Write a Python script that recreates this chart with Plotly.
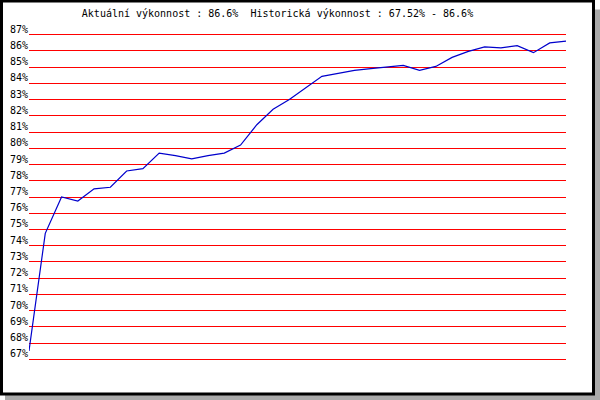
import plotly.graph_objects as go

# ---- data ----
performance = [67.52, 74.76, 77.0, 76.75, 77.5, 77.6, 78.6, 78.75, 79.7, 79.55,
               79.35, 79.55, 79.7, 80.2, 81.45, 82.4, 83.0, 83.7, 84.43, 84.61,
               84.8, 84.9, 84.98, 85.1, 84.8, 85.04, 85.6, 85.97, 86.24, 86.18,
               86.32, 85.89, 86.49, 86.6]
sample_index = list(range(len(performance)))
tick_values = list(range(67, 88))
tick_labels = [f"{v}%" for v in tick_values]
title_text = "Aktuální výkonnost : 86.6%  Historická výkonnost : 67.52% - 86.6%"

W, H = 600, 400
Y_MIN, Y_MAX, PAD = 67, 87, 0.1
PX_PER_UNIT = (359 - 35) / (Y_MAX - Y_MIN)
L, R = 29, 566
T = 35 - PAD * PX_PER_UNIT
B = 359 + PAD * PX_PER_UNIT

def px(x):
    return (x - L) / (R - L)

def py(y):
    return (B - y) / (B - T)

FONT = "DejaVu Sans Mono"

fig = go.Figure()
fig.add_trace(go.Scatter(
    x=sample_index, y=performance, mode="lines",
    line=dict(color="#0000cc", width=1.2),
    hoverinfo="skip", showlegend=False,
))

shapes = [
    # shadow
    dict(type="rect", xref="paper", yref="paper", layer="below",
         x0=px(5), x1=px(600), y0=py(10), y1=py(400),
         fillcolor="#aaaaaa", line=dict(width=0)),
    # frame
    dict(type="rect", xref="paper", yref="paper", layer="below",
         x0=px(1.5), x1=px(593.5), y0=py(1.5), y1=py(393.5),
         fillcolor="white", line=dict(color="black", width=3)),
]

annotations = [
    dict(x=0, xref="paper", xshift=-21, xanchor="left",
         y=v, yref="y", yanchor="bottom", yshift=-2,
         text=t, showarrow=False,
         font=dict(family=FONT, size=10, color="black"))
    for v, t in zip(tick_values, tick_labels)
]

fig.update_layout(
    width=W, height=H,
    margin=dict(l=L, r=W - R, t=T, b=H - B, pad=0),
    paper_bgcolor="white", plot_bgcolor="rgba(0,0,0,0)",
    title=dict(text=title_text, x=277.5 / W, xanchor="center",
               y=1 - 13 / H, yanchor="middle",
               font=dict(family=FONT, size=10, color="black")),
    shapes=shapes, annotations=annotations,
    showlegend=False,
)
fig.update_xaxes(range=[sample_index[0], sample_index[-1]], showgrid=False,
                 zeroline=False, showticklabels=False, ticks="", showline=False,
                 fixedrange=True)
fig.update_yaxes(range=[Y_MIN - PAD, Y_MAX + PAD], tickvals=tick_values, showgrid=True,
                 gridcolor="#ff0000", gridwidth=1, zeroline=False,
                 showticklabels=False, ticks="", showline=False, fixedrange=True)

fig.write_html("out.html", config={"displayModeBar": False},
               post_script="document.body.style.margin='0';document.body.style.overflow='hidden';")
